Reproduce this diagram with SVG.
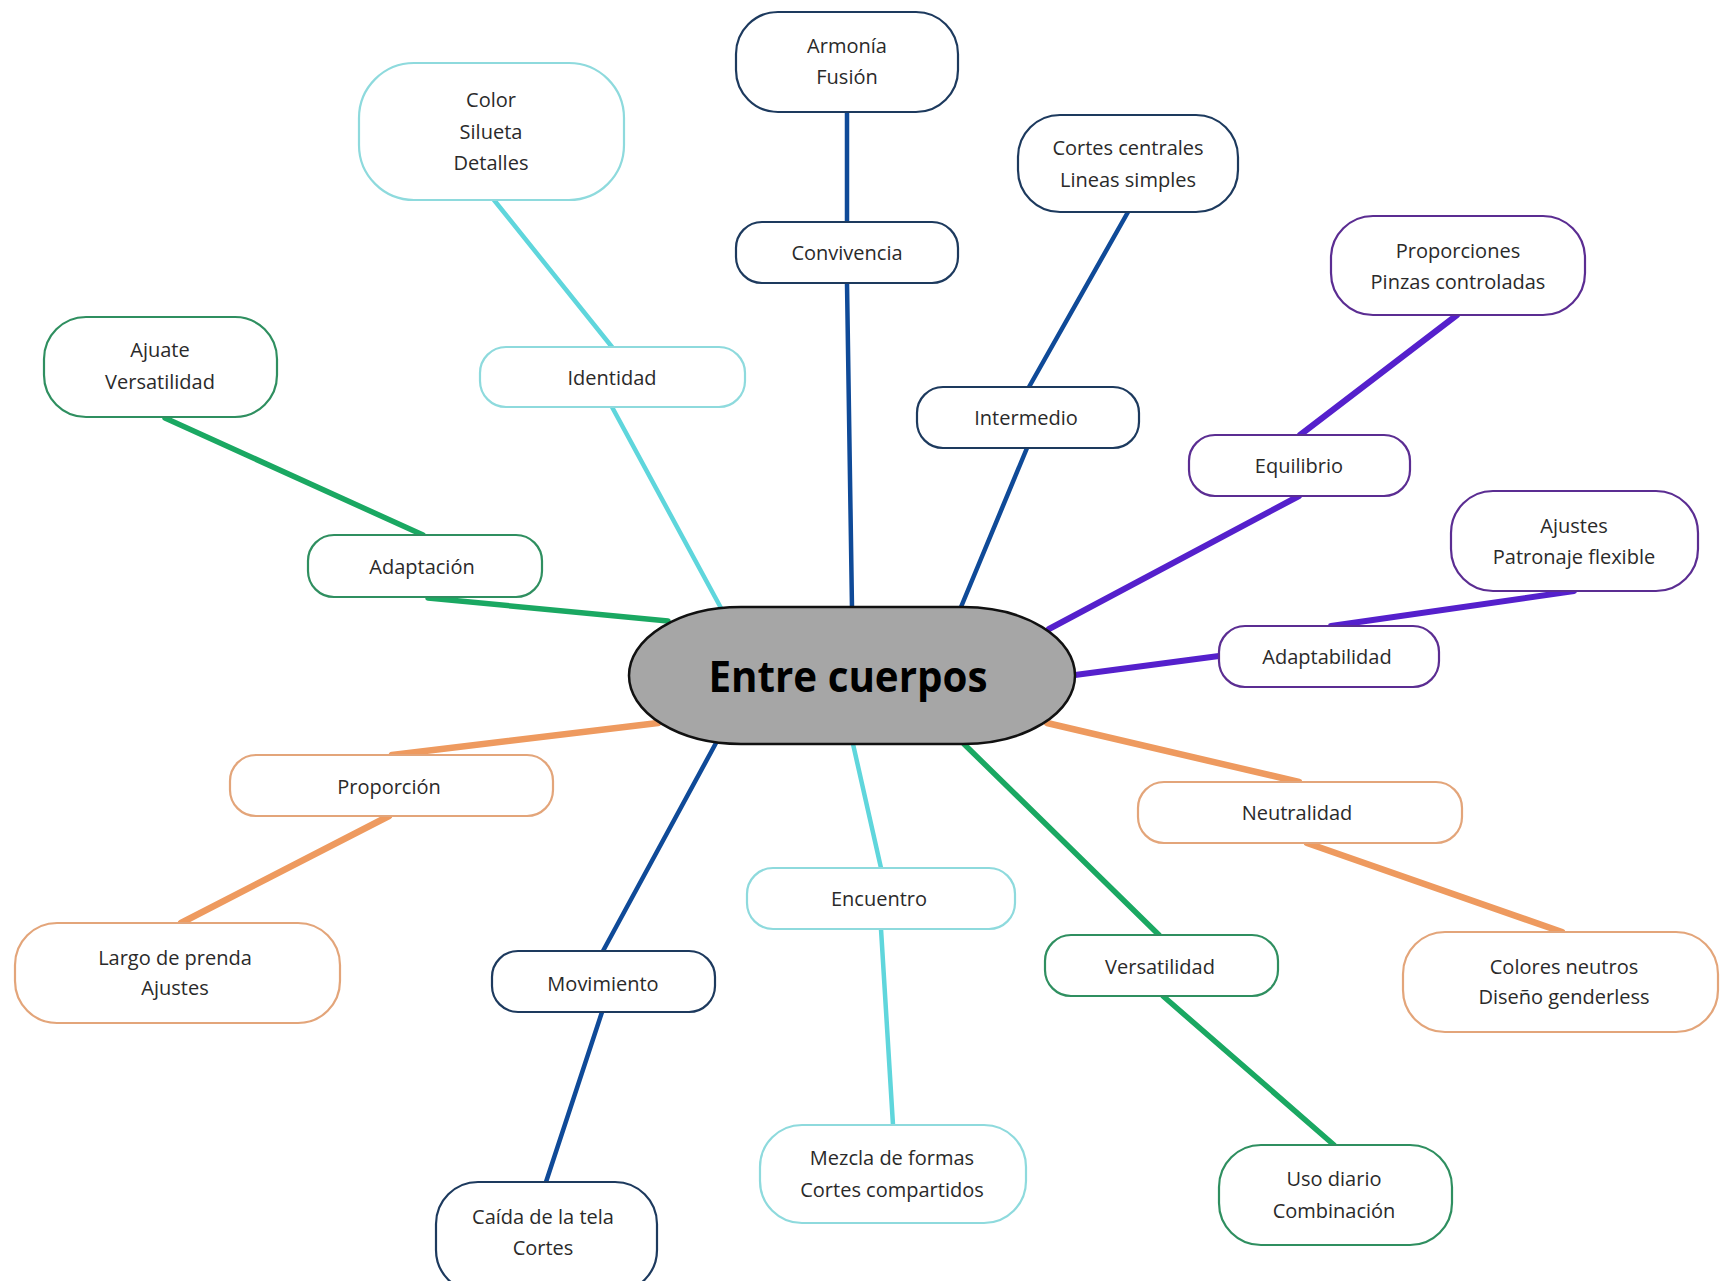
<svg xmlns="http://www.w3.org/2000/svg" width="1720" height="1281" viewBox="0 0 1720 1281">
<style>
.n{fill:#fff;stroke-width:2.2}
.b{stroke:#1d3a5e}
.c{stroke:#8edadd}
.g{stroke:#2f8f60}
.p{stroke:#5b2d92}
.o{stroke:#e3a57a}
.t{font-family:"Open Sans","Liberation Sans",sans-serif;font-size:20px;fill:#2a2a2a;text-anchor:middle}
.lb{stroke:#0f4a98;stroke-width:4.5;stroke-linecap:round;fill:none}
.lc{stroke:#5fd6dc;stroke-width:4.5;stroke-linecap:round;fill:none}
.lg{stroke:#1aa862;stroke-width:5.5;stroke-linecap:round;fill:none}
.lp{stroke:#5520cc;stroke-width:6;stroke-linecap:round;fill:none}
.lo{stroke:#ee9a5f;stroke-width:6.5;stroke-linecap:round;fill:none}
</style>
<rect width="1720" height="1281" fill="#fff"/>
<g id="connectors">
<line class="lb" x1="847" y1="112" x2="847" y2="222"/>
<line class="lb" x1="847" y1="283" x2="852" y2="608"/>
<line class="lb" x1="1128" y1="212" x2="1029" y2="387"/>
<line class="lb" x1="1027" y1="448" x2="961" y2="607"/>
<line class="lb" x1="716" y1="743" x2="603" y2="951"/>
<line class="lb" x1="602" y1="1012" x2="546" y2="1182"/>
<line class="lc" x1="494" y1="200" x2="612" y2="347"/>
<line class="lc" x1="612" y1="407" x2="721" y2="608"/>
<line class="lc" x1="853" y1="744" x2="881" y2="868"/>
<line class="lc" x1="881" y1="929" x2="893" y2="1125"/>
<line class="lg" x1="165" y1="418" x2="423" y2="535"/>
<line class="lg" x1="428" y1="598" x2="668" y2="621"/>
<line class="lg" x1="964" y1="744" x2="1159" y2="935"/>
<line class="lg" x1="1163" y1="996" x2="1334" y2="1145"/>
<line class="lp" x1="1457" y1="315" x2="1300" y2="435"/>
<line class="lp" x1="1299" y1="496" x2="1049" y2="629"/>
<line class="lp" x1="1574" y1="591" x2="1331" y2="626"/>
<line class="lp" x1="1219" y1="656" x2="1075" y2="675"/>
<line class="lo" x1="658" y1="723" x2="392" y2="755"/>
<line class="lo" x1="389" y1="816" x2="181" y2="923"/>
<line class="lo" x1="1047" y1="723" x2="1299" y2="782"/>
<line class="lo" x1="1307" y1="843" x2="1562" y2="932"/>
</g>
<g id="center">
<rect x="629" y="607" width="446" height="137" rx="112" ry="68.5" fill="#a6a6a6" stroke="#111" stroke-width="2.5"/>
<text x="848" y="692" font-family="'Open Sans','Liberation Sans',sans-serif" font-size="43" font-weight="bold" fill="#000" text-anchor="middle" textLength="279" lengthAdjust="spacingAndGlyphs">Entre cuerpos</text>
</g>
<g id="armonia"><rect class="n b" x="736" y="12" width="222" height="100" rx="42"/><text class="t" x="847" y="53">Armonía</text><text class="t" x="847" y="84">Fusión</text></g>
<g id="convivencia"><rect class="n b" x="736" y="222" width="222" height="61" rx="26"/><text class="t" x="847" y="260">Convivencia</text></g>
<g id="color"><rect class="n c" x="359" y="63" width="265" height="137" rx="55"/><text class="t" x="491" y="107">Color</text><text class="t" x="491" y="139">Silueta</text><text class="t" x="491" y="170">Detalles</text></g>
<g id="ajuate"><rect class="n g" x="44" y="317" width="233" height="100" rx="42"/><text class="t" x="160" y="357">Ajuate</text><text class="t" x="160" y="389">Versatilidad</text></g>
<g id="identidad"><rect class="n c" x="480" y="347" width="265" height="60" rx="26"/><text class="t" x="612" y="385">Identidad</text></g>
<g id="cortes-centrales"><rect class="n b" x="1018" y="115" width="220" height="97" rx="42"/><text class="t" x="1128" y="155">Cortes centrales</text><text class="t" x="1128" y="187">Lineas simples</text></g>
<g id="intermedio"><rect class="n b" x="917" y="387" width="222" height="61" rx="26"/><text class="t" x="1026" y="425">Intermedio</text></g>
<g id="proporciones"><rect class="n p" x="1331" y="216" width="254" height="99" rx="42"/><text class="t" x="1458" y="258">Proporciones</text><text class="t" x="1458" y="289">Pinzas controladas</text></g>
<g id="equilibrio"><rect class="n p" x="1189" y="435" width="221" height="61" rx="26"/><text class="t" x="1299" y="473">Equilibrio</text></g>
<g id="ajustes"><rect class="n p" x="1451" y="491" width="247" height="100" rx="42"/><text class="t" x="1574" y="533">Ajustes</text><text class="t" x="1574" y="564">Patronaje flexible</text></g>
<g id="adaptabilidad"><rect class="n p" x="1219" y="626" width="220" height="61" rx="26"/><text class="t" x="1327" y="664">Adaptabilidad</text></g>
<g id="adaptacion"><rect class="n g" x="308" y="535" width="234" height="62" rx="26"/><text class="t" x="422" y="574">Adaptación</text></g>
<g id="proporcion"><rect class="n o" x="230" y="755" width="323" height="61" rx="26"/><text class="t" x="389" y="794">Proporción</text></g>
<g id="largo"><rect class="n o" x="15" y="923" width="325" height="100" rx="42"/><text class="t" x="175" y="965">Largo de prenda</text><text class="t" x="175" y="995">Ajustes</text></g>
<g id="movimiento"><rect class="n b" x="492" y="951" width="223" height="61" rx="26"/><text class="t" x="603" y="991">Movimiento</text></g>
<g id="caida"><rect class="n b" x="436" y="1182" width="221" height="110" rx="42"/><text class="t" x="543" y="1224">Caída de la tela</text><text class="t" x="543" y="1255">Cortes</text></g>
<g id="encuentro"><rect class="n c" x="747" y="868" width="268" height="61" rx="26"/><text class="t" x="879" y="906">Encuentro</text></g>
<g id="mezcla"><rect class="n c" x="760" y="1125" width="266" height="98" rx="42"/><text class="t" x="892" y="1165">Mezcla de formas</text><text class="t" x="892" y="1197">Cortes compartidos</text></g>
<g id="versatilidad"><rect class="n g" x="1045" y="935" width="233" height="61" rx="26"/><text class="t" x="1160" y="974">Versatilidad</text></g>
<g id="uso-diario"><rect class="n g" x="1219" y="1145" width="233" height="100" rx="42"/><text class="t" x="1334" y="1186">Uso diario</text><text class="t" x="1334" y="1218">Combinación</text></g>
<g id="neutralidad"><rect class="n o" x="1138" y="782" width="324" height="61" rx="26"/><text class="t" x="1297" y="820">Neutralidad</text></g>
<g id="colores"><rect class="n o" x="1403" y="932" width="315" height="100" rx="42"/><text class="t" x="1564" y="974">Colores neutros</text><text class="t" x="1564" y="1004">Diseño genderless</text></g>
</svg>
